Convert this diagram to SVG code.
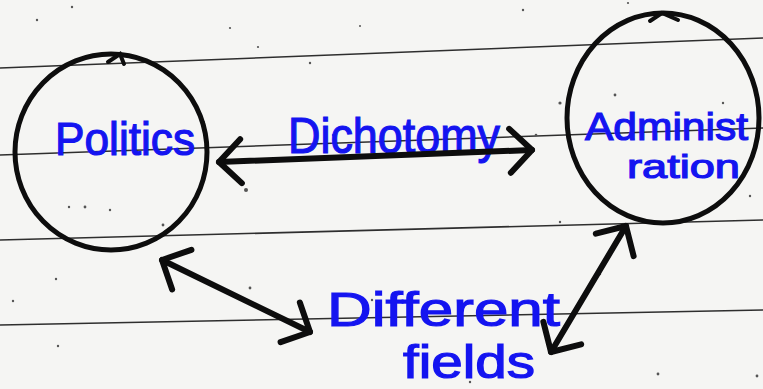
<svg xmlns="http://www.w3.org/2000/svg" width="763" height="389" viewBox="0 0 763 389">
<style>
.rule{stroke:#2e2e2e;stroke-width:1.6;fill:none}
.node{fill:none;stroke:#0d0d0d;stroke-width:5}
.tick{fill:none;stroke:#0d0d0d;stroke-width:4;stroke-linecap:round}
.lbl{font-family:"Liberation Sans",Arial,sans-serif;fill:#1414f0;stroke:#1414f0;stroke-width:1.2}
.conn{fill:none;stroke:#0d0d0d;stroke-width:6;stroke-linecap:round;marker-start:url(#head);marker-end:url(#head)}
.dot{fill:#555}
</style>
<defs>
<marker id="head" markerUnits="userSpaceOnUse" markerWidth="60" markerHeight="60" viewBox="-30 -30 60 60" refX="0" refY="0" orient="auto-start-reverse">
<path d="M-22,-22 L0,0 L-22,22" fill="none" stroke="#0d0d0d" stroke-width="6" stroke-linecap="round" stroke-linejoin="round"/>
</marker>
</defs>
<rect width="763" height="389" fill="#f5f5f3"/>
<g id="paper">
<line class="rule" x1="0" y1="68" x2="763" y2="38"/>
<line class="rule" x1="0" y1="155" x2="763" y2="128"/>
<line class="rule" x1="0" y1="240" x2="763" y2="220"/>
<line class="rule" x1="0" y1="325" x2="763" y2="310"/>
<circle class="dot" cx="72" cy="7" r="1.2"/><circle class="dot" cx="37" cy="20" r="1.2"/>
<circle class="dot" cx="230" cy="28" r="1.1"/><circle class="dot" cx="310" cy="63" r="1.2"/>
<circle class="dot" cx="523" cy="10" r="1.2"/><circle class="dot" cx="628" cy="3" r="1.1"/>
<circle class="dot" cx="360" cy="26" r="1"/><circle class="dot" cx="258" cy="47" r="1.1"/>
<circle class="dot" cx="85" cy="207" r="1.4"/><circle class="dot" cx="69" cy="207" r="1.2"/>
<circle class="dot" cx="110" cy="210" r="1.2"/><circle class="dot" cx="163" cy="225" r="1.4"/>
<circle class="dot" cx="246" cy="190" r="2"/><circle class="dot" cx="56" cy="279" r="1.2"/>
<circle class="dot" cx="58" cy="346" r="1.2"/><circle class="dot" cx="250" cy="288" r="1.4"/>
<circle class="dot" cx="372" cy="300" r="1.2"/><circle class="dot" cx="600" cy="274" r="1.2"/>
<circle class="dot" cx="658" cy="374" r="1.4"/><circle class="dot" cx="757" cy="376" r="1.4"/>
<circle class="dot" cx="750" cy="196" r="1.2"/><circle class="dot" cx="560" cy="222" r="1.2"/>
<circle class="dot" cx="560" cy="103" r="1.6"/><circle class="dot" cx="536" cy="135" r="1.3"/>
<circle class="dot" cx="615" cy="95" r="1.4"/><circle class="dot" cx="723" cy="103" r="1.2"/>
<circle class="dot" cx="13" cy="301" r="1.2"/><circle class="dot" cx="333" cy="135" r="1.2"/>
<circle class="dot" cx="470" cy="382" r="1.2"/><circle class="dot" cx="204" cy="122" r="1"/>
</g>
<g id="politics">
<ellipse class="node" cx="111" cy="152" rx="96" ry="98"/>
<path class="tick" d="M108,62 L120,54 L124,64"/>
<text class="lbl" x="55" y="155" font-size="46" textLength="140" lengthAdjust="spacingAndGlyphs">Politics</text>
</g>
<g id="administration">
<ellipse class="node" cx="663" cy="118" rx="96" ry="105"/>
<path class="tick" d="M650,21 L662,13 L678,20"/>
<text class="lbl" x="585" y="140" font-size="38" textLength="163" lengthAdjust="spacingAndGlyphs">Administ</text>
<text class="lbl" x="627" y="178" font-size="34" textLength="113" lengthAdjust="spacingAndGlyphs">ration</text>
</g>
<g id="dichotomy-label">
<text class="lbl" x="288" y="153" font-size="50" textLength="212" lengthAdjust="spacingAndGlyphs">Dichotomy</text>
</g>
<g id="different-fields">
<text class="lbl" x="327" y="326" font-size="48" textLength="233" lengthAdjust="spacingAndGlyphs">Different</text>
<text class="lbl" x="403" y="378" font-size="46" textLength="132" lengthAdjust="spacingAndGlyphs">fields</text>
</g>
<g id="connectors">
<path class="conn" d="M219,162 L532,150"/>
<path class="conn" d="M162,260 L310,332"/>
<path class="conn" d="M626,226 L551,352"/>
</g>
</svg>
